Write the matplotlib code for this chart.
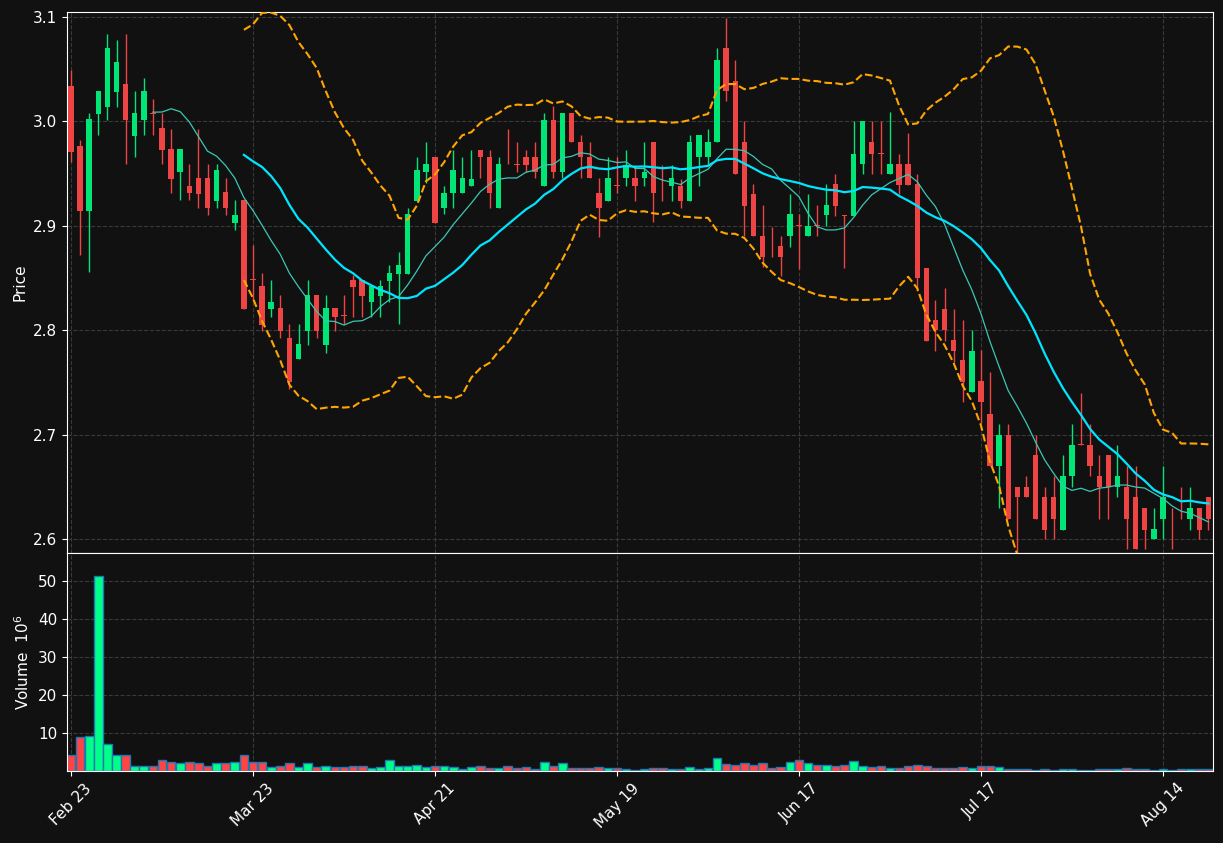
import matplotlib
matplotlib.use("Agg")
import matplotlib.pyplot as plt
import numpy as np
import pandas as pd

opens = [3.034,2.976,2.914,3.007,3.014,3.028,3.036,2.986,3.001,3.008,2.994,2.974,2.952,2.938,2.946,2.946,2.924,2.932,2.903,2.925,
 2.849,2.842,2.820,2.821,2.793,2.772,2.799,2.834,2.786,2.821,2.8145,2.848,2.848,2.827,2.833,2.847,2.854,2.854,2.924,2.952,
 2.966,2.917,2.931,2.931,2.938,2.973,2.966,2.917,2.966,2.959,2.966,2.966,2.938,3.001,2.952,3.008,2.980,2.966,2.931,2.924,
 2.9385,2.946,2.946,2.946,2.980,2.946,2.938,2.938,2.924,2.966,2.966,2.980,3.070,3.039,2.980,2.930,2.890,2.881,2.881,2.890,
 2.9005,2.890,2.9005,2.910,2.940,2.910,2.909,2.959,2.980,2.9695,2.950,2.959,2.959,2.940,2.860,2.810,2.820,2.791,2.771,2.741,
 2.751,2.720,2.670,2.700,2.650,2.650,2.680,2.640,2.640,2.609,2.660,2.6905,2.690,2.660,2.680,2.650,2.650,2.640,2.630,2.600,
 2.619,2.6195,2.6195,2.619,2.630,2.640]
closes = [2.971,2.914,3.002,3.029,3.070,3.057,3.001,3.008,3.029,3.007,2.973,2.945,2.974,2.931,2.930,2.917,2.953,2.917,2.910,2.820,
 2.848,2.805,2.827,2.799,2.750,2.787,2.834,2.799,2.821,2.813,2.814,2.841,2.833,2.842,2.842,2.855,2.862,2.911,2.953,2.959,
 2.903,2.931,2.953,2.946,2.945,2.966,2.931,2.959,2.9655,2.9585,2.958,2.952,3.001,2.952,3.008,2.980,2.966,2.946,2.917,2.946,
 2.938,2.958,2.938,2.952,2.931,2.9455,2.946,2.924,2.980,2.987,2.980,3.059,3.029,2.950,2.919,2.890,2.870,2.8805,2.870,2.911,
 2.900,2.900,2.900,2.920,2.919,2.909,2.969,3.000,2.969,2.969,2.959,2.939,2.939,2.850,2.790,2.800,2.800,2.780,2.750,2.780,
 2.731,2.670,2.700,2.619,2.640,2.640,2.619,2.609,2.619,2.660,2.690,2.690,2.670,2.650,2.650,2.660,2.619,2.590,2.609,2.610,
 2.640,2.619,2.619,2.630,2.609,2.619]
highs = [3.049,2.982,3.008,3.029,3.084,3.078,3.084,3.029,3.042,3.021,3.008,2.993,2.974,2.959,2.993,2.959,2.959,2.946,2.925,2.925,
 2.882,2.855,2.848,2.834,2.806,2.806,2.848,2.834,2.834,2.821,2.834,2.853,2.848,2.842,2.848,2.862,2.875,2.917,2.966,2.980,
 2.966,2.938,2.973,2.966,2.973,2.973,2.973,2.966,2.993,2.980,2.973,2.980,3.008,3.015,3.008,3.008,2.987,2.980,2.946,2.966,
 2.966,2.973,2.958,2.980,2.980,2.958,2.958,2.945,2.987,2.987,2.993,3.070,3.099,3.059,3.000,2.940,2.920,2.899,2.890,2.930,
 2.911,2.930,2.920,2.940,2.950,2.910,3.000,3.000,3.000,3.000,3.009,2.969,2.989,2.950,2.860,2.829,2.840,2.820,2.810,2.800,
 2.781,2.760,2.710,2.710,2.650,2.660,2.700,2.650,2.660,2.680,2.710,2.740,2.710,2.680,2.680,2.690,2.670,2.670,2.630,2.630,
 2.670,2.630,2.650,2.650,2.630,2.640]
lows = [2.961,2.872,2.856,2.987,3.001,3.014,2.959,2.966,2.987,2.987,2.959,2.931,2.925,2.925,2.917,2.910,2.917,2.910,2.896,2.820,
 2.829,2.799,2.813,2.793,2.744,2.772,2.786,2.793,2.778,2.799,2.806,2.813,2.813,2.813,2.813,2.827,2.806,2.854,2.924,2.941,
 2.903,2.911,2.917,2.931,2.938,2.946,2.917,2.917,2.959,2.952,2.952,2.946,2.938,2.946,2.946,2.980,2.946,2.946,2.889,2.924,
 2.931,2.938,2.924,2.938,2.904,2.924,2.924,2.917,2.924,2.938,2.958,2.980,3.020,2.950,2.890,2.890,2.861,2.870,2.852,2.880,
 2.859,2.890,2.890,2.900,2.909,2.860,2.909,2.950,2.950,2.950,2.950,2.930,2.939,2.838,2.790,2.780,2.790,2.770,2.731,2.741,
 2.711,2.670,2.630,2.619,2.585,2.640,2.619,2.600,2.600,2.609,2.650,2.690,2.660,2.619,2.619,2.640,2.590,2.590,2.590,2.600,
 2.600,2.590,2.619,2.609,2.600,2.609]
volumes = [4.1,9.0,9.3,51.3,7.0,4.3,4.3,1.4,1.4,1.4,2.8,2.5,2.0,2.3,2.0,1.4,2.0,2.0,2.3,4.1,
 2.3,2.5,1.0,1.4,2.0,1.0,2.0,1.0,1.2,1.0,1.0,1.2,1.2,0.7,1.0,2.8,1.2,1.2,1.7,1.0,
 1.2,1.2,1.0,0.4,1.0,1.2,0.7,0.7,1.2,0.7,1.0,0.4,2.3,1.2,2.0,0.7,0.7,0.7,1.0,0.7,
 0.7,0.4,0.3,0.4,0.7,0.7,0.6,0.5,1.0,0.6,0.8,3.4,1.9,1.5,2.0,1.5,2.0,0.7,1.0,2.3,
 2.8,2.0,1.5,1.5,1.2,1.5,2.6,1.2,1.0,1.2,0.7,0.8,1.2,1.5,1.2,0.7,0.7,0.7,1.0,0.7,
 1.2,1.2,1.0,0.5,0.4,0.4,0.3,0.4,0.3,0.4,0.4,0.3,0.3,0.5,0.4,0.5,0.8,0.6,0.4,0.3,
 0.4,0.3,0.4,0.5,0.4,0.4]
tick_pos = [0, 20, 40, 60, 80, 100, 120]
tick_labels = ["Feb 23", "Mar 23", "Apr 21", "May 19", "Jun 17", "Jul 17", "Aug 14"]

BG = "#111111"
UP, DN = "#00e676", "#ef4444"
VUP, VDN = "#00ff88", "#ff4444"
o, c, h, l, v = map(np.array, (opens, closes, highs, lows, volumes))
x = np.arange(len(o))
cs = pd.Series(c)
ma20 = cs.rolling(20).mean()
ma10 = cs.rolling(10).mean()
sd = cs.rolling(20).std()

fig = plt.figure(figsize=(12.23, 8.43), dpi=100, facecolor=BG)
ax = fig.add_axes([0.0548, 0.344, 0.937, 0.6418])
axv = fig.add_axes([0.0548, 0.0854, 0.937, 0.2586], sharex=ax)
for a in (ax, axv):
    a.set_facecolor(BG)
    for s in a.spines.values():
        s.set_color("white")
    a.tick_params(colors="white", labelsize=11)
    a.grid(True, color="#444444", linestyle="--", linewidth=0.8, alpha=0.8)
    a.set_axisbelow(True)

up = c >= o
col = np.where(up, UP, DN)
ax.vlines(x, l, h, colors=col, linewidth=1, zorder=2)
ax.bar(x, np.maximum(np.abs(c - o), 0.0006), bottom=np.minimum(o, c), width=0.6, color=col, zorder=3)
ax.plot(x, ma10, color="#3cc7b4", lw=0.9, zorder=4)
ax.plot(x, ma20, color="#00e5ff", lw=1.6, zorder=4)
ax.plot(x, ma20 + 2 * sd, color="orange", lw=1.5, ls="--", zorder=4)
ax.plot(x, ma20 - 2 * sd, color="orange", lw=1.5, ls="--", zorder=4)
ax.set_ylim(2.5866, 3.1048)
ax.set_xlim(-0.44, 125.5)
ax.set_ylabel("Price", color="white", fontsize=11)
ax.tick_params(axis="x", labelbottom=False, length=0)

axv.bar(x, v, width=0.95, color=np.where(up, VUP, VDN), edgecolor="#1f77b4", linewidth=1)
axv.set_ylim(0, 57.4)
axv.set_yticks([10, 20, 30, 40, 50])
axv.set_ylabel("Volume  $10^6$", color="white", fontsize=11)
axv.set_xticks(tick_pos)
axv.set_xticklabels(tick_labels, rotation=45)
axv.set_xlim(-0.44, 125.5)

fig.savefig("out.png", dpi=100, facecolor=BG)
